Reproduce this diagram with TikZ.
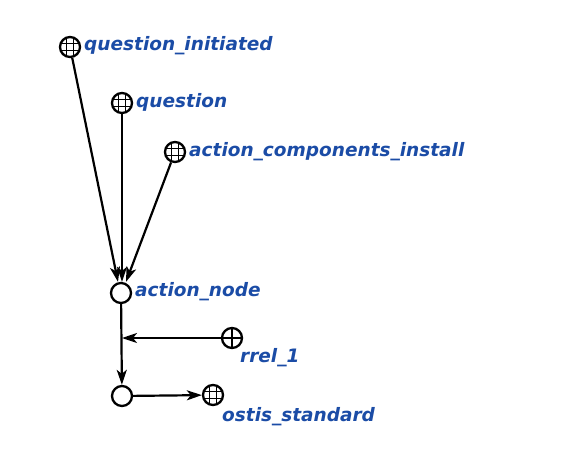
\documentclass[tikz,border=0pt]{standalone}
\usepackage{fontspec}
\setmainfont{DejaVu Sans}
\usetikzlibrary{arrows.meta}
\definecolor{lbl}{HTML}{1B4CA6}
\tikzset{
  x=1pt, y=-1pt,
  vnode/.style={circle, draw, line width=2.3pt, minimum size=20pt, inner sep=0pt, fill=white},
  lab/.style={text=lbl, font=\fontsize{18.5}{20}\selectfont\bfseries\itshape, inner sep=0pt, anchor=west},
  arc/.style={line width=2.2pt, -{Stealth[length=15pt, width=10pt, inset=4pt]}},
  gridmark/.style={path picture={
     \draw[line width=1.2pt] ([xshift=-3.5pt]path picture bounding box.north) -- ([xshift=-3.5pt]path picture bounding box.south)
       ([xshift=3.5pt]path picture bounding box.north) -- ([xshift=3.5pt]path picture bounding box.south)
       ([yshift=-3.5pt]path picture bounding box.west) -- ([yshift=-3.5pt]path picture bounding box.east)
       ([yshift=3.5pt]path picture bounding box.west) -- ([yshift=3.5pt]path picture bounding box.east);}},
  crossmark/.style={path picture={
     \draw[line width=1.8pt] (path picture bounding box.north) -- (path picture bounding box.south)
       (path picture bounding box.west) -- (path picture bounding box.east);}}
}
\begin{document}
\begin{tikzpicture}
\useasboundingbox (0,0) rectangle (586,456);
\node[vnode, gridmark] (qi) at (70,47) {};
\node[lab] (qil) at (84,46) {question\_initiated};
\node[vnode, gridmark] (q) at (122,103) {};
\node[lab] (ql) at (136,102) {question};
\node[vnode, gridmark] (aci) at (175,152) {};
\node[lab] (acil) at (189,152) {action\_components\_install};
\node[vnode] (an) at (121,293) {};
\node[lab] (anl) at (135,292) {action\_node};
\node[vnode, crossmark] (r) at (232,338) {};
\node[lab] (rl) at (240,358) {rrel\_1};
\node[vnode] (b) at (122,396) {};
\node[vnode, gridmark] (os) at (213,395) {};
\node[lab] (osl) at (222,417) {ostis\_standard};
\coordinate (mid) at (122,338);
\draw[arc] (qi) -- ([xshift=-3pt]an.north);
\draw[arc] (q) -- ([xshift=1pt]an.north);
\draw[arc] (aci) -- ([xshift=5pt]an.north);
\draw[arc] (an) -- (b);
\draw[arc] (r) -- (mid);
\draw[arc] (b) -- (os);
\end{tikzpicture}
\end{document}
